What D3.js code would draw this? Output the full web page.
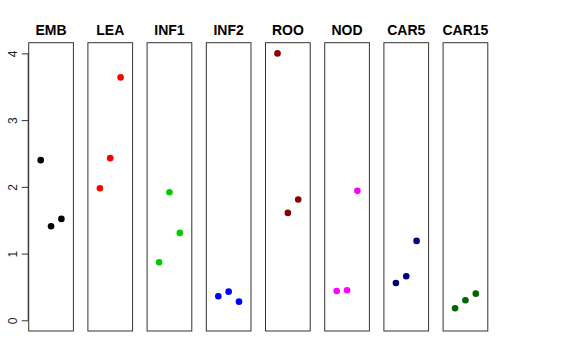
<!DOCTYPE html>
<html>
<head>
<meta charset="utf-8">
<script src="https://cdn.jsdelivr.net/npm/d3@7.9.0/dist/d3.min.js"></script>
<style>
  body { margin: 0; background: #fff; }
  svg { display: block; font-family: "Liberation Sans", Arial, sans-serif; }
</style>
</head>
<body>
<svg id="chart" width="576" height="360"></svg>
<script>
// panels, in order
const stages = ['EMB', 'LEA', 'INF1', 'INF2', 'ROO', 'NOD', 'CAR5', 'CAR15'];
const colors = ['#000000', '#ff0000', '#00cd00', '#0000ff', '#8b0000', '#ff00ff', '#000080', '#006400'];

// three replicate values per panel
const rep1 = [2.40, 1.98, 0.87, 0.36, 4.00, 0.44, 0.56, 0.18];
const rep2 = [1.41, 2.43, 1.92, 0.43, 1.61, 0.45, 0.66, 0.30];
const rep3 = [1.52, 3.64, 1.31, 0.28, 1.81, 1.94, 1.19, 0.40];

const yTicks = [0, 1, 2, 3, 4];

const svg = d3.select('#chart');

const firstLeft = 28.7, step = 59.2, panelW = 44.7;
const plotTop = 42.7, plotBottom = 331;

// y domain padded by 4% like base graphics
const y = d3.scaleLinear().domain([-0.16, 4.16]).range([plotBottom, plotTop]);

stages.forEach((name, i) => {
  const left = firstLeft + i * step;
  const x = d3.scaleLinear().domain([-0.16, 4.16]).range([left, left + panelW]);
  const g = svg.append('g');

  g.append('rect')
    .attr('x', left)
    .attr('y', plotTop)
    .attr('width', panelW)
    .attr('height', plotBottom - plotTop)
    .attr('fill', 'none')
    .attr('stroke', '#333')
    .attr('stroke-width', 1);

  g.append('text')
    .attr('x', left + panelW / 2)
    .attr('y', 34.5)
    .attr('text-anchor', 'middle')
    .attr('font-weight', 'bold')
    .attr('font-size', 14)
    .text(name);

  const vals = [rep1[i], rep2[i], rep3[i]];
  g.selectAll('circle')
    .data(vals)
    .enter()
    .append('circle')
    .attr('cx', (d, j) => x(j + 1))
    .attr('cy', (d) => y(d))
    .attr('r', 3.3)
    .attr('fill', colors[i]);
});

// y axis on the first panel only, labels turned like R's default
const axis = svg.append('g')
  .attr('transform', `translate(${firstLeft},0)`)
  .call(d3.axisLeft(y).tickValues(yTicks).tickSize(7).tickPadding(6).tickFormat(d3.format('d')));
axis.select('.domain').attr('d', `M-0.5,${y(0)}V${y(4)}`).attr('stroke', '#333');
axis.selectAll('.tick line').attr('stroke', '#333');
axis.selectAll('.tick text')
  .attr('font-size', 12)
  .attr('fill', '#222')
  .attr('font-family', '"Liberation Sans", Arial, sans-serif')
  .attr('text-anchor', 'middle')
  .attr('dy', null)
  .attr('x', null)
  .attr('transform', 'translate(-16,0) rotate(-90)')
  .attr('dominant-baseline', 'central');
</script>
</body>
</html>
